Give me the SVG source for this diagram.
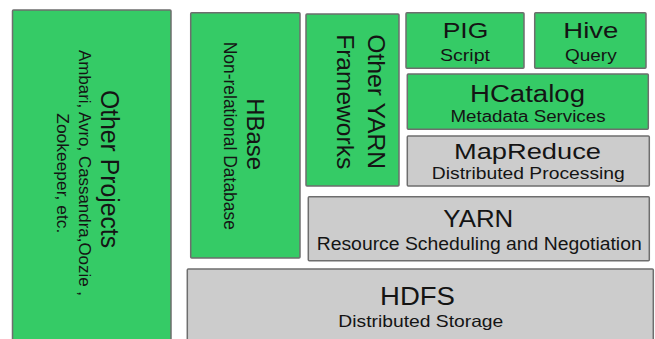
<svg xmlns="http://www.w3.org/2000/svg" width="655" height="339" viewBox="0 0 655 339">
<style>
.box{stroke:#6e6e6e;stroke-width:1.5}
.g{fill:#35cb66}
.n{fill:#cccccc}
text{font-family:"Liberation Sans",Arial,sans-serif;fill:#141414;text-anchor:middle}
</style>
<rect width="655" height="339" fill="#ffffff"/>
<g id="other-projects">
<rect class="box g" x="12.5" y="10" width="158.5" height="345" rx="1"/>
<text transform="translate(101,169) rotate(90)" font-size="25" textLength="158" lengthAdjust="spacingAndGlyphs">Other Projects</text>
<text transform="translate(79,173) rotate(90)" font-size="17" textLength="246" lengthAdjust="spacingAndGlyphs">Ambari, Avro, Cassandra,Oozie ,</text>
<text transform="translate(57,173.3) rotate(90)" font-size="17" textLength="120" lengthAdjust="spacingAndGlyphs">Zookeeper, etc.</text>
</g>
<g id="hbase">
<rect class="box g" x="190.7" y="12.7" width="109.3" height="245.3" rx="1"/>
<text transform="translate(247,134.2) rotate(90)" font-size="24" textLength="71.7" lengthAdjust="spacingAndGlyphs">HBase</text>
<text transform="translate(224,135.8) rotate(90)" font-size="17.5" textLength="188.3" lengthAdjust="spacingAndGlyphs">Non-relational Database</text>
</g>
<g id="other-yarn">
<rect class="box g" x="306" y="14" width="93" height="172" rx="1"/>
<text transform="translate(368,101.7) rotate(90)" font-size="24" textLength="135" lengthAdjust="spacingAndGlyphs">Other YARN</text>
<text transform="translate(336.5,101.7) rotate(90)" font-size="24" textLength="135" lengthAdjust="spacingAndGlyphs">Frameworks</text>
</g>
<g id="pig">
<rect class="box g" x="406" y="12.7" width="118" height="55.6" rx="1"/>
<text x="465.5" y="38.3" font-size="22" textLength="45.7" lengthAdjust="spacingAndGlyphs">PIG</text>
<text x="465" y="60.5" font-size="16.5" textLength="50" lengthAdjust="spacingAndGlyphs">Script</text>
</g>
<g id="hive">
<rect class="box g" x="534.7" y="12.7" width="111.3" height="55.6" rx="1"/>
<text x="590.8" y="38.3" font-size="22" textLength="55" lengthAdjust="spacingAndGlyphs">Hive</text>
<text x="590.8" y="60.5" font-size="16.5" textLength="51.7" lengthAdjust="spacingAndGlyphs">Query</text>
</g>
<g id="hcatalog">
<rect class="box g" x="407.3" y="74" width="241" height="55.3" rx="1"/>
<text x="527.5" y="101.5" font-size="23" textLength="115" lengthAdjust="spacingAndGlyphs">HCatalog</text>
<text x="528" y="121.5" font-size="16" textLength="155" lengthAdjust="spacingAndGlyphs">Metadata Services</text>
</g>
<g id="mapreduce">
<rect class="box n" x="407.3" y="136" width="242" height="50" rx="1"/>
<text x="527.5" y="159" font-size="22" textLength="147" lengthAdjust="spacingAndGlyphs">MapReduce</text>
<text x="528.3" y="178.5" font-size="16.5" textLength="193" lengthAdjust="spacingAndGlyphs">Distributed Processing</text>
</g>
<g id="yarn">
<rect class="box n" x="308.3" y="196.7" width="341" height="64" rx="1"/>
<text x="478.3" y="227.3" font-size="23" textLength="70" lengthAdjust="spacingAndGlyphs">YARN</text>
<text x="479.2" y="250" font-size="17.5" textLength="325" lengthAdjust="spacingAndGlyphs">Resource Scheduling and Negotiation</text>
</g>
<g id="hdfs">
<rect class="box n" x="187.3" y="269" width="466" height="85" rx="1"/>
<text x="417.5" y="305" font-size="25" textLength="75" lengthAdjust="spacingAndGlyphs">HDFS</text>
<text x="420.8" y="326.7" font-size="16.5" textLength="165" lengthAdjust="spacingAndGlyphs">Distributed Storage</text>
</g>
<g id="connectors"></g>
</svg>
